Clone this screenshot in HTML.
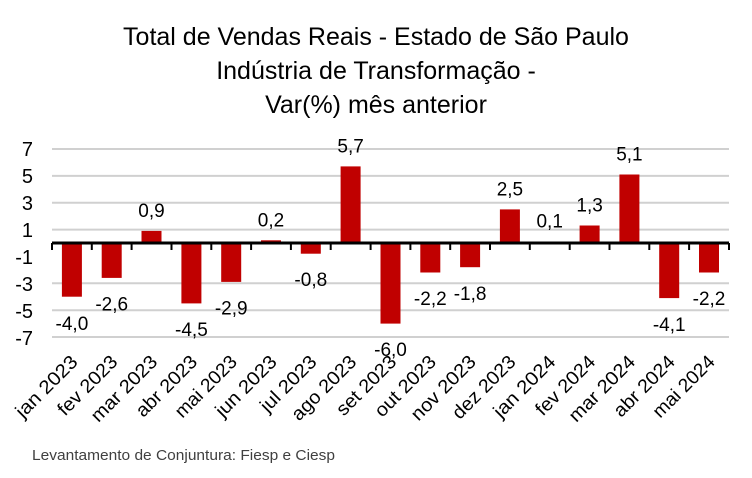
<!DOCTYPE html>
<html><head><meta charset="utf-8"><style>body{margin:0;background:#fff}svg{display:block}text{font-family:"Liberation Sans",Calibri,sans-serif;fill:#000}</style></head>
<body>
<svg width="752" height="478" viewBox="0 0 752 478" xmlns="http://www.w3.org/2000/svg">
<text x="376" y="45" font-size="25" text-anchor="middle">Total de Vendas Reais - Estado de São Paulo</text>
<text x="376" y="79" font-size="25" text-anchor="middle">Indústria de Transformação -</text>
<text x="376" y="113" font-size="25" text-anchor="middle">Var(%) mês anterior</text>
<g stroke="#d0d0d0" stroke-width="2">
<line x1="52" x2="729" y1="149" y2="149"/><line x1="52" x2="729" y1="175.9" y2="175.9"/>
<line x1="52" x2="729" y1="202.7" y2="202.7"/><line x1="52" x2="729" y1="229.6" y2="229.6"/>
<line x1="52" x2="729" y1="283.3" y2="283.3"/><line x1="52" x2="729" y1="310.2" y2="310.2"/>
<line x1="52" x2="729" y1="337" y2="337"/>
</g>
<g font-size="20" text-anchor="end">
<text x="33" y="156">7</text><text x="33" y="183">5</text><text x="33" y="210">3</text><text x="33" y="237">1</text>
<text x="33" y="264">-1</text><text x="33" y="291">-3</text><text x="33" y="318">-5</text><text x="33" y="345">-7</text>
</g>
<g fill="#c00000">
<rect x="61.9" y="243" width="20" height="53.7"/>
<rect x="101.7" y="243" width="20" height="34.9"/>
<rect x="141.5" y="230.9" width="20" height="12.1"/>
<rect x="181.4" y="243" width="20" height="60.4"/>
<rect x="221.2" y="243" width="20" height="38.9"/>
<rect x="261" y="240.3" width="20" height="2.7"/>
<rect x="300.8" y="243" width="20" height="10.7"/>
<rect x="340.6" y="166.4" width="20" height="76.6"/>
<rect x="380.5" y="243" width="20" height="80.6"/>
<rect x="420.3" y="243" width="20" height="29.5"/>
<rect x="460.1" y="243" width="20" height="24.2"/>
<rect x="499.9" y="209.4" width="20" height="33.6"/>
<rect x="539.7" y="241.7" width="20" height="1.3"/>
<rect x="579.6" y="225.5" width="20" height="17.5"/>
<rect x="619.4" y="174.5" width="20" height="68.5"/>
<rect x="659.2" y="243" width="20" height="55.1"/>
<rect x="699" y="243" width="20" height="29.5"/>
</g>
<g font-size="19" text-anchor="middle">
<text x="71.9" y="330">-4,0</text>
<text x="111.7" y="310.5">-2,6</text>
<text x="151.5" y="216.9">0,9</text>
<text x="191.4" y="336">-4,5</text>
<text x="231.2" y="314.5">-2,9</text>
<text x="271" y="226.3">0,2</text>
<text x="310.8" y="286">-0,8</text>
<text x="350.6" y="152.4">5,7</text>
<text x="390.5" y="356">-6,0</text>
<text x="430.3" y="305">-2,2</text>
<text x="470.1" y="300">-1,8</text>
<text x="509.9" y="195.4">2,5</text>
<text x="549.7" y="227.7">0,1</text>
<text x="589.6" y="211.5">1,3</text>
<text x="629.4" y="160.5">5,1</text>
<text x="669.2" y="331">-4,1</text>
<text x="709" y="305">-2,2</text>
</g>
<g font-size="19" text-anchor="end">
<text transform="translate(78.9,363) rotate(-45)" textLength="79" lengthAdjust="spacingAndGlyphs">jan 2023</text>
<text transform="translate(118.7,363) rotate(-45)" textLength="76" lengthAdjust="spacingAndGlyphs">fev 2023</text>
<text transform="translate(158.5,363) rotate(-45)" textLength="85" lengthAdjust="spacingAndGlyphs">mar 2023</text>
<text transform="translate(198.4,363) rotate(-45)" textLength="78" lengthAdjust="spacingAndGlyphs">abr 2023</text>
<text transform="translate(238.2,363) rotate(-45)" textLength="79" lengthAdjust="spacingAndGlyphs">mai 2023</text>
<text transform="translate(278,363) rotate(-45)" textLength="78" lengthAdjust="spacingAndGlyphs">jun 2023</text>
<text transform="translate(317.8,363) rotate(-45)" textLength="71" lengthAdjust="spacingAndGlyphs">jul 2023</text>
<text transform="translate(357.6,363) rotate(-45)" textLength="83" lengthAdjust="spacingAndGlyphs">ago 2023</text>
<text transform="translate(397.5,363) rotate(-45)" textLength="76" lengthAdjust="spacingAndGlyphs">set 2023</text>
<text transform="translate(437.3,363) rotate(-45)" textLength="78" lengthAdjust="spacingAndGlyphs">out 2023</text>
<text transform="translate(477.1,363) rotate(-45)" textLength="83" lengthAdjust="spacingAndGlyphs">nov 2023</text>
<text transform="translate(516.9,363) rotate(-45)" textLength="81" lengthAdjust="spacingAndGlyphs">dez 2023</text>
<text transform="translate(556.7,363) rotate(-45)" textLength="79" lengthAdjust="spacingAndGlyphs">jan 2024</text>
<text transform="translate(596.6,363) rotate(-45)" textLength="76" lengthAdjust="spacingAndGlyphs">fev 2024</text>
<text transform="translate(636.4,363) rotate(-45)" textLength="85" lengthAdjust="spacingAndGlyphs">mar 2024</text>
<text transform="translate(676.2,363) rotate(-45)" textLength="78" lengthAdjust="spacingAndGlyphs">abr 2024</text>
<text transform="translate(716,363) rotate(-45)" textLength="79" lengthAdjust="spacingAndGlyphs">mai 2024</text>
</g>
<line x1="52" x2="729" y1="243" y2="243" stroke="#000" stroke-width="3"/>
<g stroke="#000" stroke-width="2">
<line x1="52" x2="52" y1="243" y2="250"/><line x1="91.8" x2="91.8" y1="243" y2="250"/>
<line x1="131.6" x2="131.6" y1="243" y2="250"/><line x1="171.5" x2="171.5" y1="243" y2="250"/>
<line x1="211.3" x2="211.3" y1="243" y2="250"/><line x1="251.1" x2="251.1" y1="243" y2="250"/>
<line x1="290.9" x2="290.9" y1="243" y2="250"/><line x1="330.7" x2="330.7" y1="243" y2="250"/>
<line x1="370.6" x2="370.6" y1="243" y2="250"/><line x1="410.4" x2="410.4" y1="243" y2="250"/>
<line x1="450.2" x2="450.2" y1="243" y2="250"/><line x1="490" x2="490" y1="243" y2="250"/>
<line x1="529.8" x2="529.8" y1="243" y2="250"/><line x1="569.7" x2="569.7" y1="243" y2="250"/>
<line x1="609.5" x2="609.5" y1="243" y2="250"/><line x1="649.3" x2="649.3" y1="243" y2="250"/>
<line x1="689.1" x2="689.1" y1="243" y2="250"/><line x1="729" x2="729" y1="243" y2="250"/>
</g>
<text x="32" y="460" font-size="15" fill="#404040" style="fill:#404040" textLength="303" lengthAdjust="spacingAndGlyphs">Levantamento de Conjuntura: Fiesp e Ciesp</text>
</svg>
</body></html>
